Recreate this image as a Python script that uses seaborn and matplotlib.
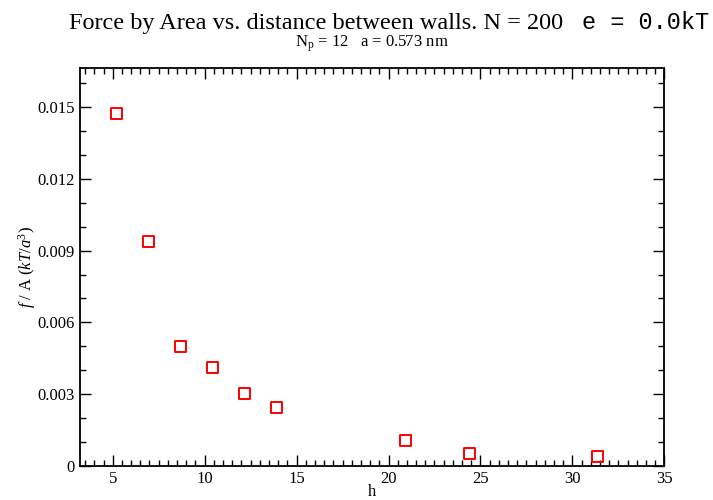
# Force by area vs. wall distance - xmgrace style scatter

import numpy as np
import pandas as pd
import matplotlib
matplotlib.use("Agg")
import matplotlib.pyplot as plt
from matplotlib.ticker import MultipleLocator, FuncFormatter
import seaborn as sns


# =====================
# DATA
# =====================
h_values = [5.22, 6.97, 8.71, 10.45, 12.19, 13.93, 20.93, 24.39, 31.39]
force_per_area = [0.01472, 0.00937, 0.00498, 0.00409, 0.00303, 0.00243, 0.00105, 0.00053, 0.00038]

title_serif = "Force by Area vs. distance between walls. N = 200"
title_mono = "e = 0.0kT"
subtitle = r"N$_\mathregular{p}$ = 12   a = 0.573 nm"
x_label = "h"
y_label = r"$f\ /\ \mathregular{A}\ (kT/a^{3})$"

df = pd.DataFrame({"h": h_values, "fa": force_per_area})


# =====================
# STYLE
# =====================
sns.set_theme(style="ticks")
plt.rcParams["font.family"] = ["Liberation Serif", "DejaVu Serif"]
plt.rcParams["mathtext.fontset"] = "custom"
plt.rcParams["mathtext.rm"] = "Liberation Serif"
plt.rcParams["mathtext.it"] = "Liberation Serif:italic"
plt.rcParams["mathtext.bf"] = "Liberation Serif:bold"
plt.rcParams["text.color"] = "black"
plt.rcParams["axes.labelcolor"] = "black"


# =====================
# FIGURE
# =====================
fig = plt.figure(figsize=(7.13, 5.0), dpi=100)
ax = fig.add_axes([80 / 713, 1 - 465.7 / 500, (664.3 - 80) / 713, (465.7 - 68.3) / 500])

sns.scatterplot(
    data=df, x="h", y="fa", ax=ax,
    marker="s", s=62, facecolor="none", edgecolor="#ff0000",
    linewidth=1.4, legend=False, zorder=3
)

ax.set_xlim(3.22, 35)
ax.set_ylim(0, 0.01663)

ax.xaxis.set_major_locator(MultipleLocator(5))
ax.xaxis.set_minor_locator(MultipleLocator(0.5))
ax.yaxis.set_major_locator(MultipleLocator(0.003))
ax.yaxis.set_minor_locator(MultipleLocator(0.001))
ax.yaxis.set_major_formatter(FuncFormatter(lambda v, p: "0" if abs(v) < 1e-12 else f"{v:.3f}"))

ax.tick_params(which="both", direction="in", top=True, right=True,
               colors="black", labelsize=12, pad=4)
ax.tick_params(which="major", length=8, width=1.0)
ax.tick_params(which="minor", length=4, width=1.0)

for sp in ax.spines.values():
    sp.set_visible(True)
    sp.set_color("black")
    sp.set_linewidth(1.3)

ax.set_xlabel(x_label, fontsize=12, labelpad=-2)
ax.set_ylabel(y_label, fontsize=12, labelpad=-1)

# title: serif part + monospace part
fig.text(563 / 713, 1 - 29 / 500, title_serif, ha="right", va="baseline",
         fontsize=17.5, family=["Liberation Serif"])
fig.text(582 / 713, 1 - 29 / 500, title_mono, ha="left", va="baseline",
         fontsize=17, family=["Liberation Mono"])
fig.text(372 / 713, 1 - 47 / 500, subtitle, ha="center", va="baseline", fontsize=12)

fig.savefig("out.png", dpi=100)
